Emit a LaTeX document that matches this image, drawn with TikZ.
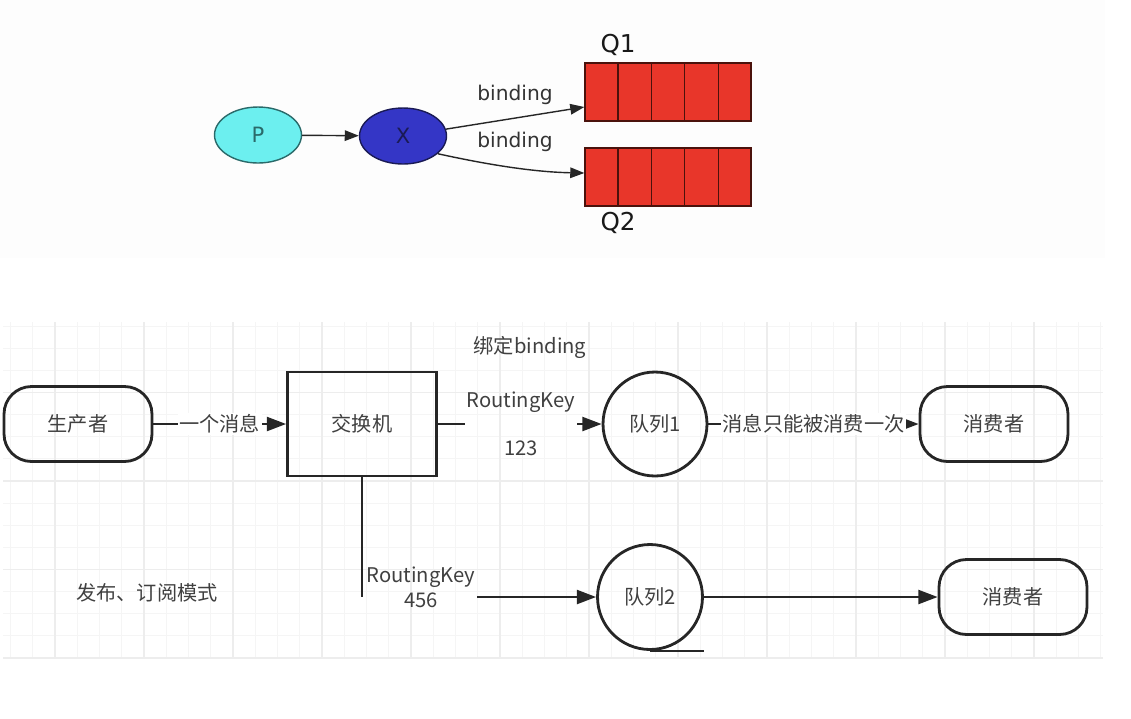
\documentclass[tikz,border=0pt]{standalone}
\usepackage{fontspec}
\setmainfont{Noto Sans CJK SC}
\newfontfamily\qfont{DejaVu Sans}
\usepackage{tikz}
\usetikzlibrary{arrows.meta, shapes.geometric, calc}
\definecolor{pfill}{HTML}{6CEFEF}
\definecolor{pline}{HTML}{2A6A6A}
\definecolor{xfill}{HTML}{3436C6}
\definecolor{xline}{HTML}{1A1A55}
\definecolor{qfill}{HTML}{E8362A}
\definecolor{qline}{HTML}{4A120C}
\definecolor{linec}{HTML}{262626}
\definecolor{txtc}{HTML}{404040}
\tikzset{>={Triangle[length=11pt,width=8pt]}}
\tikzset{
  gridminor/.style={black!4, line width=0.5pt},
  gridmajor/.style={black!7, line width=0.7pt},
  pnode/.style={ellipse, draw=pline, fill=pfill, line width=0.8pt, minimum width=1.74cm, minimum height=1.12cm, inner sep=0pt, text=pline, font=\qfont\fontsize{12}{14}\selectfont},
  xnode/.style={pnode, draw=xline, fill=xfill, text=xline},
  queue/.style={rectangle, draw=qline, fill=qfill, line width=0.8pt, minimum width=3.32cm, minimum height=1.16cm, inner sep=0pt},
  qlabel/.style={font=\qfont\fontsize{14}{16}\selectfont, text=black!90},
  blabel/.style={font=\qfont\fontsize{11.5}{13}\selectfont, text=black!80},
  toparrow/.style={->, >={Triangle[length=8pt,width=6pt]}, line width=0.8pt, black!85},
  term/.style={rectangle, draw=linec, line width=1.6pt, rounded corners=0.55cm, minimum width=2.96cm, minimum height=1.5cm, text=txtc, font=\fontsize{11.5}{14}\selectfont},
  exchbox/.style={term, rounded corners=0pt, minimum width=2.98cm, minimum height=2.08cm},
  queuecirc/.style={circle, draw=linec, line width=1.6pt, minimum size=2.08cm, inner sep=0pt, text=txtc, font=\fontsize{11.5}{14}\selectfont},
  txt/.style={text=txtc, font=\fontsize{11.5}{14}\selectfont, inner sep=1pt},
  edgelbl/.style={txt, fill=white, midway},
  flow/.style={draw=linec, line width=1.3pt}
}
\begin{document}
\begin{tikzpicture}[x=0.02cm, y=-0.02cm]
  \useasboundingbox (0,0) rectangle (1131,718);
  \fill[black!0.7] (0,0) rectangle (1105,258);

  % grid
  \foreach \k in {0,...,49} {
    \pgfmathsetmacro\gx{10.5+22.25*\k}
    \draw[gridminor] (\gx,322) -- (\gx,658);
  }
  \foreach \j in {0,...,15} {
    \pgfmathsetmacro\gy{658-22.13*\j}
    \draw[gridminor] (3,\gy) -- (1103,\gy);
  }
  \foreach \k in {2,6,...,46} {
    \pgfmathsetmacro\gx{10.5+22.25*\k}
    \draw[gridmajor] (\gx,322) -- (\gx,658);
  }
  \foreach \j in {0,4,8,12} {
    \pgfmathsetmacro\gy{658-22.13*\j}
    \draw[gridmajor] (3,\gy) -- (1103,\gy);
  }

  % top: exchange with two queues
  \node[pnode] (p) at (258,135) {P};
  \node[xnode] (x) at (403,136) {X};
  \node[queue] (q1) at (668,92) {};
  \node[queue] (q2) at (668,177) {};
  \foreach \q in {q1,q2}
    \foreach \i in {1,...,4}
      \draw[qline, line width=0.8pt] ($(\q.north west)!\i/5!(\q.north east)$) -- ($(\q.south west)!\i/5!(\q.south east)$);
  \node[qlabel] (q1lbl) at (618,45) {Q1};
  \node[qlabel] (q2lbl) at (618,223) {Q2};
  \node[blabel] (b1) at (515,95) {binding};
  \node[blabel] (b2) at (515,142) {binding};
  \draw[toparrow] (p) -- (x);
  \draw[toparrow] (x) -- ([yshift=-0.3cm]q1.west);
  \draw[toparrow] (x.-27) .. controls (480,163) and (530,172) .. ([yshift=0.08cm]q2.west);

  % bottom: publish / subscribe
  \node[term] (prod) at (78,424) {生产者};
  \node[exchbox] (exch) at (362,424) {交换机};
  \node[queuecirc] (queue1) at (655,424) {队列1};
  \node[term] (cons1) at (994,424) {消费者};
  \node[queuecirc, minimum size=2.1cm] (queue2) at (650,597) {队列2};
  \node[term] (cons2) at (1013,597) {消费者};
  \node[txt] (bindtxt) at (530,347) {绑定binding};
  \node[txt] (mode) at (147,593) {发布、订阅模式};
  \node[txt, align=center] (rk1) at (521,424) {RoutingKey\\[13pt]123};
  \node[txt, align=center] (rk2) at (421,587) {RoutingKey\\456};
  \coordinate (bend) at (exch.south |- queue2.west);

  \draw[flow, ->] (prod) -- node[edgelbl] {一个消息} (exch);
  \draw[flow] (exch.east) -- (rk1.west);
  \draw[flow, ->] (rk1.east) -- (queue1);
  \draw[flow, ->] (queue1) -- node[edgelbl] {消息只能被消费一次} (cons1);
  \draw[flow] (exch.south) -- (bend);
  \draw[flow, ->] (rk2.east |- bend) -- (queue2);
  \draw[flow, ->] (queue2) -- (cons2);
  \draw[flow, line width=1.6pt] (queue2.south) -- (queue2.south -| queue2.east);
\end{tikzpicture}
\end{document}
